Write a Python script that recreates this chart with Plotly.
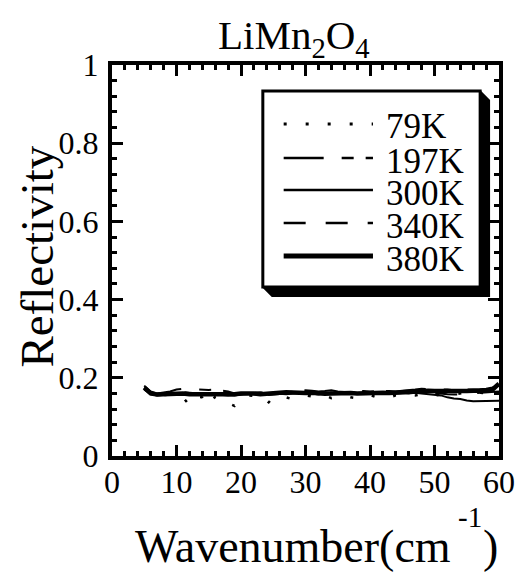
import plotly.graph_objects as go

# ---------------- data ----------------
wavenumber = [5, 6, 7, 8, 9, 10, 11, 12, 13, 14, 15, 16, 17, 18, 19, 20,
              21, 22, 23, 24, 25, 26, 27, 28, 29, 30, 31, 32, 33, 34, 35, 36,
              37, 38, 39, 40, 41, 42, 43, 44, 45, 46, 47, 48, 49, 50, 51, 52,
              53, 54, 55, 56, 57, 58, 59, 60]

r_79K = [0.172, 0.160, 0.155, 0.156, 0.157, 0.155, 0.150, 0.130, 0.152, 0.150,
         0.128, 0.152, 0.150, 0.135, 0.128, 0.150, 0.155, 0.154, 0.148, 0.132,
         0.150, 0.155, 0.150, 0.145, 0.150, 0.155, 0.152, 0.150, 0.155, 0.148,
         0.152, 0.155, 0.150, 0.148, 0.152, 0.156, 0.150, 0.152, 0.150, 0.155,
         0.152, 0.156, 0.155, 0.158, 0.156, 0.155, 0.157, 0.160, 0.158, 0.160,
         0.162, 0.160, 0.162, 0.160, 0.163, 0.165]

r_197K = [0.180, 0.165, 0.160, 0.162, 0.165, 0.170, 0.172, 0.171, 0.170, 0.170,
          0.169, 0.170, 0.168, 0.165, 0.160, 0.158, 0.160, 0.162, 0.163, 0.162,
          0.160, 0.161, 0.163, 0.165, 0.166, 0.168, 0.167, 0.165, 0.166, 0.168,
          0.165, 0.163, 0.162, 0.165, 0.166, 0.165, 0.166, 0.167, 0.166, 0.165,
          0.167, 0.168, 0.170, 0.172, 0.172, 0.171, 0.170, 0.170, 0.168, 0.168,
          0.170, 0.170, 0.171, 0.172, 0.175, 0.180]

r_300K = [0.175, 0.160, 0.156, 0.157, 0.158, 0.158, 0.160, 0.158, 0.157, 0.158,
          0.157, 0.158, 0.157, 0.155, 0.156, 0.158, 0.160, 0.158, 0.157, 0.158,
          0.160, 0.159, 0.158, 0.160, 0.161, 0.160, 0.159, 0.158, 0.160, 0.161,
          0.160, 0.159, 0.160, 0.160, 0.161, 0.160, 0.160, 0.159, 0.160, 0.160,
          0.161, 0.160, 0.162, 0.160, 0.158, 0.157, 0.155, 0.150, 0.147, 0.146,
          0.142, 0.140, 0.140, 0.140, 0.140, 0.141]

r_340K = [0.170, 0.158, 0.155, 0.156, 0.158, 0.160, 0.163, 0.162, 0.160, 0.159,
          0.160, 0.160, 0.158, 0.156, 0.155, 0.157, 0.158, 0.160, 0.158, 0.156,
          0.157, 0.158, 0.160, 0.162, 0.163, 0.161, 0.160, 0.158, 0.159, 0.162,
          0.161, 0.160, 0.158, 0.160, 0.162, 0.160, 0.161, 0.163, 0.162, 0.160,
          0.161, 0.162, 0.163, 0.164, 0.163, 0.161, 0.160, 0.158, 0.157, 0.158,
          0.160, 0.161, 0.162, 0.163, 0.163, 0.165]

r_380K = [0.175, 0.160, 0.157, 0.158, 0.160, 0.161, 0.160, 0.158, 0.158, 0.159,
          0.158, 0.157, 0.158, 0.157, 0.158, 0.160, 0.161, 0.160, 0.158, 0.160,
          0.161, 0.162, 0.163, 0.162, 0.160, 0.161, 0.162, 0.160, 0.159, 0.160,
          0.161, 0.162, 0.161, 0.160, 0.161, 0.162, 0.163, 0.162, 0.161, 0.162,
          0.163, 0.164, 0.166, 0.167, 0.167, 0.166, 0.165, 0.166, 0.166, 0.165,
          0.166, 0.167, 0.166, 0.167, 0.170, 0.185]

series_names = ["79K", "197K", "300K", "340K", "380K"]
series_values = [r_79K, r_197K, r_300K, r_340K, r_380K]

x_ticks = [0, 10, 20, 30, 40, 50, 60]
y_ticks = [0, 0.2, 0.4, 0.6, 0.8, 1]
y_tick_text = ["0", "0.2", "0.4", "0.6", "0.8", "1"]

# ---------------- styles ----------------
FONT = "Liberation Serif"
W, H = 527, 573
L, R, T, B = 112, 25, 65, 117
PW, PH = W - L - R, H - T - B

dashes = ["3px,19px", "40px,18px,12px,12px", "solid", "22px,20px", "solid"]
widths = [2.5, 2, 2, 2, 4.5]
leg_widths = [3, 2.5, 2.5, 2.5, 5]


def px(x):
    return (x - L) / PW


def py(y):
    return (T + PH - y) / PH


fig = go.Figure()
for name, vals, d, w in zip(series_names, series_values, dashes, widths):
    fig.add_trace(go.Scatter(x=wavenumber, y=vals, mode="lines", name=name,
                             line=dict(color="black", width=w, dash=d),
                             showlegend=False))
# empty trace so that the mirrored (top/right) axes with minor ticks get drawn
fig.add_trace(go.Scatter(x=[], y=[], xaxis="x2", yaxis="y2", showlegend=False,
                         hoverinfo="skip"))

tick_common = dict(
    showline=True, linecolor="black", linewidth=4,
    ticks="inside", ticklen=11, tickwidth=3, tickcolor="black",
    showgrid=False, zeroline=False,
    tickfont=dict(family=FONT, size=32, color="black"),
)
xminor = dict(dtick=2, ticks="inside", ticklen=5, tickwidth=3,
              tickcolor="black", showgrid=False)
yminor = dict(dtick=0.04, ticks="inside", ticklen=5, tickwidth=3,
              tickcolor="black", showgrid=False)

fig.update_layout(
    xaxis=dict(range=[0, 60], tickvals=x_ticks, minor=xminor,
               ticklabelstandoff=-5, **tick_common),
    yaxis=dict(range=[0, 1], tickvals=y_ticks, ticktext=y_tick_text,
               minor=yminor, ticklabelstandoff=3, **tick_common),
    xaxis2=dict(range=[0, 60], tickvals=x_ticks, minor=xminor, overlaying="x",
                side="top", anchor="y2", showticklabels=False, **tick_common),
    yaxis2=dict(range=[0, 1], tickvals=y_ticks, minor=yminor, overlaying="y",
                side="right", anchor="x2", showticklabels=False, **tick_common),
)

shapes = []
annotations = []

# legend shadow and box
shadow_path = "M {} {} L {} {} L {} {} L {} {} L {} {} L {} {} Z".format(
    px(263), py(287), px(273), py(297), px(493), py(297),
    px(493), py(100), px(483), py(90), px(483), py(287))
shapes.append(dict(type="path", xref="paper", yref="paper", path=shadow_path,
                   fillcolor="black", line=dict(width=0)))
shapes.append(dict(type="rect", xref="paper", yref="paper",
                   x0=px(264), x1=px(483), y0=py(287), y1=py(91),
                   fillcolor="white", line=dict(color="black", width=3)))

leg_y = [124, 158, 190, 223, 256]
for name, yy, d, w in zip(series_names, leg_y, dashes, leg_widths):
    shapes.append(dict(type="line", xref="paper", yref="paper",
                       x0=px(285), x1=px(375), y0=py(yy), y1=py(yy),
                       line=dict(color="black", width=w, dash=d)))
    annotations.append(dict(text=name, xref="paper", yref="paper",
                            x=px(386), y=py(yy + 3), xanchor="left", yanchor="middle",
                            showarrow=False,
                            font=dict(family=FONT, size=35, color="black")))

# title
annotations.append(dict(text="LiMn<sub>2</sub>O<sub>4</sub>", xref="paper", yref="paper",
                        x=px(295), y=py(38), xanchor="center", yanchor="middle",
                        showarrow=False, font=dict(family=FONT, size=41, color="black")))
# y title
annotations.append(dict(text="Reflectivity", xref="paper", yref="paper",
                        x=px(36), y=py(257), xanchor="center", yanchor="middle",
                        textangle=-90, showarrow=False,
                        font=dict(family=FONT, size=47, color="black")))
# x title pieces
annotations.append(dict(text="Wavenumber(cm", xref="paper", yref="paper",
                        x=px(456), y=py(546), xanchor="right", yanchor="middle",
                        showarrow=False, font=dict(family=FONT, size=46, color="black")))
annotations.append(dict(text=")", xref="paper", yref="paper",
                        x=px(493), y=py(546), xanchor="center", yanchor="middle",
                        showarrow=False, font=dict(family=FONT, size=46, color="black")))
annotations.append(dict(text="-1", xref="paper", yref="paper",
                        x=px(473), y=py(517), xanchor="center", yanchor="middle",
                        showarrow=False, font=dict(family=FONT, size=29, color="black")))

fig.update_layout(width=W, height=H, margin=dict(l=L, r=R, t=T, b=B, pad=0),
                  paper_bgcolor="white", plot_bgcolor="white",
                  shapes=shapes, annotations=annotations, showlegend=False)

fig.write_html("out.html")
